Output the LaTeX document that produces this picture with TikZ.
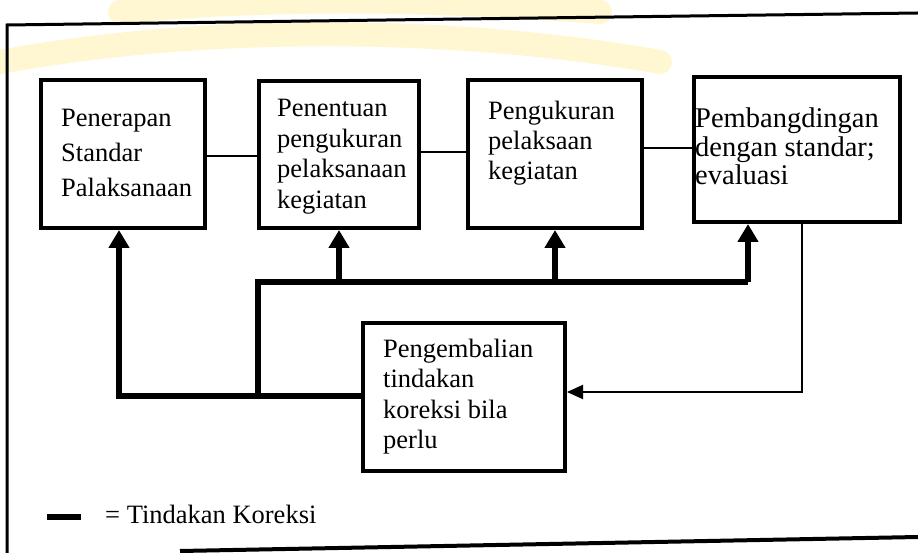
\documentclass[tikz,border=0pt]{standalone}
\usepackage{fontspec}
\setmainfont{Liberation Serif}
\usetikzlibrary{arrows.meta}
\begin{document}
\begin{tikzpicture}[x=1pt,y=-1pt,
  box/.style={draw, line width=4pt, inner sep=0pt, fill=white},
  txt/.style={anchor=base west, align=left, inner sep=0pt},
  corr/.style={line width=6pt, line join=miter},
  corrarrow/.style={line width=6pt, line join=miter, -{Triangle[length=18pt 0 0,width=20pt 0 0]}},
  link/.style={line width=2pt},
  linkarrow/.style={line width=2pt, -{Triangle[length=16pt 0 0,width=14pt 0 0]}},
  frameline/.style={line width=3pt},
  glow/.style={line width=24pt, draw=yellow!75!orange, opacity=0.18, line cap=round}]
\useasboundingbox (0,0) rectangle (918,553);
\fill[white] (0,0) rectangle (918,553);
% faint watermark arcs
\draw[glow] (0,62) .. controls (200,25) and (450,25) .. (660,62);
\draw[glow] (120,12) .. controls (260,-2) and (420,-2) .. (600,12);
% frame
\draw[frameline] (7,553) -- (7,25) -- (918,13);
\draw[line width=4pt] (180,551) -- (918,537);
% boxes
\node[box, minimum width=164pt, minimum height=148pt] (b1) at (123,154) {};
\node[box, minimum width=160pt, minimum height=147pt] (b2) at (339,154.5) {};
\node[box, minimum width=174pt, minimum height=148pt] (b3) at (555,154) {};
\node[box, minimum width=206pt, minimum height=145pt] (b4) at (797,149.5) {};
\node[box, minimum width=202pt, minimum height=148pt] (b5) at (464,397) {};
% texts (base anchor = baseline of the last line)
\node[txt, font=\fontsize{26.5}{35}\selectfont] (t1) at (61,196.7) {Penerapan\\Standar\\Palaksanaan};
\node[txt, font=\fontsize{26.5}{30.5}\selectfont] (t2) at (277,208.5) {Penentuan\\pengukuran\\pelaksanaan\\kegiatan};
\node[txt, font=\fontsize{26.5}{30}\selectfont] (t3) at (488,180) {Pengukuran\\pelaksaan\\kegiatan};
\node[txt, font=\fontsize{28.5}{28.5}\selectfont] (t4) at (695,185) {Pembangdingan\\dengan standar;\\evaluasi};
\node[txt, font=\fontsize{26.5}{30.5}\selectfont] (t5) at (383,448.5) {Pengembalian\\tindakan\\koreksi bila\\perlu};
% thin links between boxes
\draw[link] (b1.east |- 0,156) -- (b2.west |- 0,156);
\draw[link] (b2.east |- 0,152) -- (b3.west |- 0,152);
\draw[link] (b3.east |- 0,148) -- (b4.west |- 0,148);
% correction lines
\coordinate (c1) at (119,396);
\coordinate (c2) at (258,396);
\coordinate (c3) at (258,282);
\coordinate (c4) at (748,282);
\draw[corrarrow] (b5.west |- c1) -- (c1) -- (c1 |- b1.south);
\draw[corr] (c2) -- (c3) -- (c4);
\draw[corrarrow] (c4) -- (c4 |- b4.south);
\draw[corrarrow] (b2.south |- c3) -- (b2.south);
\draw[corrarrow] (b3.south |- c3) -- (b3.south);
% feedback from evaluation
\coordinate (c5) at (802,392);
\draw[linkarrow] (c5 |- b4.south) -- (c5) -- (c5 -| b5.east);
% legend
\coordinate (l1) at (47,517);
\coordinate (l2) at (81,517);
\draw[corr] (l1) -- (l2);
\node[txt, font=\fontsize{26.5}{30}\selectfont] (lt) at (105,523) {= Tindakan Koreksi};
\end{tikzpicture}
\end{document}
